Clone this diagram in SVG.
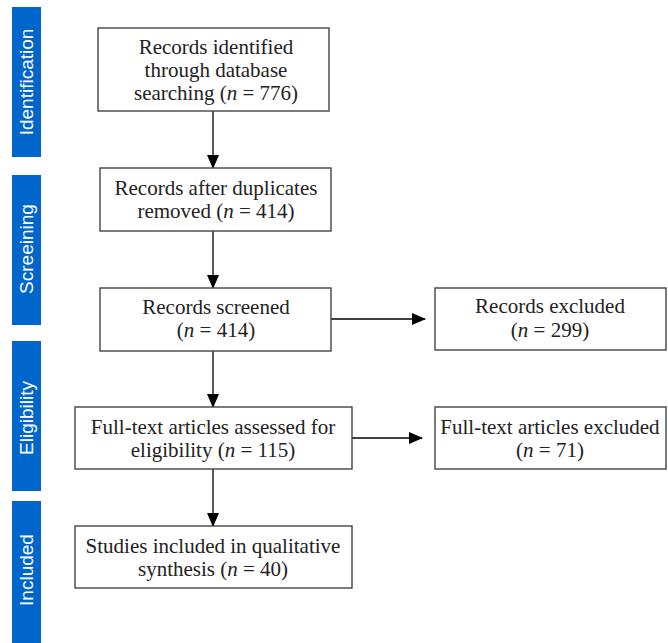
<svg xmlns="http://www.w3.org/2000/svg" width="668" height="643" viewBox="0 0 668 643">
<defs>
<style>
.box{fill:#fff;stroke:#444;stroke-width:1.4}
.t{font-family:"Liberation Serif","DejaVu Serif",serif;font-size:21px;fill:#222;text-anchor:middle}
.side{fill:#0066cc}
.st{font-family:"Liberation Sans","DejaVu Sans",sans-serif;font-size:19px;fill:#fff;text-anchor:middle;dominant-baseline:central}
.c{stroke:#000;stroke-width:1.3;fill:none;marker-end:url(#ah)}
</style>
<marker id="ah" markerWidth="14" markerHeight="12" refX="13" refY="6" orient="auto" markerUnits="userSpaceOnUse">
<path d="M0,0 L14,6 L0,12 Z" fill="#000"/>
</marker>
</defs>
<rect width="668" height="643" fill="#fff"/>
<g id="side-identification"><rect class="side" x="12" y="7" width="29" height="150"/><text class="st" transform="translate(26,82) rotate(-90)">Identification</text></g>
<g id="side-screening"><rect class="side" x="12" y="175" width="29" height="150"/><text class="st" transform="translate(26,249) rotate(-90)">Screeining</text></g>
<g id="side-eligibility"><rect class="side" x="12" y="341" width="29" height="150"/><text class="st" transform="translate(26,418) rotate(-90)">Eligibility</text></g>
<g id="side-included"><rect class="side" x="12" y="501" width="29" height="142"/><text class="st" transform="translate(26,570) rotate(-90)">Included</text></g>
<g id="connectors">
<line class="c" x1="213" y1="111" x2="213" y2="168"/>
<line class="c" x1="213" y1="231" x2="213" y2="288"/>
<line class="c" x1="213" y1="351" x2="213" y2="407"/>
<line class="c" x1="213" y1="469" x2="213" y2="526"/>
<line class="c" x1="331" y1="319" x2="425" y2="319"/>
<line class="c" x1="352" y1="438" x2="422" y2="438"/>
</g>
<g id="n1"><rect class="box" x="98" y="28" width="231" height="83"/>
<text class="t" x="216" y="54">Records identified</text>
<text class="t" x="216" y="77">through database</text>
<text class="t" x="216" y="100">searching (<tspan font-style="italic">n</tspan> = 776)</text></g>
<g id="n2"><rect class="box" x="100" y="168" width="231" height="63"/>
<text class="t" x="216" y="195">Records after duplicates</text>
<text class="t" x="216" y="218">removed (<tspan font-style="italic">n</tspan> = 414)</text></g>
<g id="n3"><rect class="box" x="100" y="288" width="231" height="63"/>
<text class="t" x="216" y="314">Records screened</text>
<text class="t" x="216" y="337">(<tspan font-style="italic">n</tspan> = 414)</text></g>
<g id="n4"><rect class="box" x="435" y="288" width="231" height="62"/>
<text class="t" x="550" y="313">Records excluded</text>
<text class="t" x="550" y="337">(<tspan font-style="italic">n</tspan> = 299)</text></g>
<g id="n5"><rect class="box" x="75" y="407" width="277" height="62"/>
<text class="t" x="213" y="434">Full-text articles assessed for</text>
<text class="t" x="213" y="457">eligibility (<tspan font-style="italic">n</tspan> = 115)</text></g>
<g id="n6"><rect class="box" x="435" y="407" width="231" height="62"/>
<text class="t" x="550" y="434">Full-text articles excluded</text>
<text class="t" x="550" y="457">(<tspan font-style="italic">n</tspan> = 71)</text></g>
<g id="n7"><rect class="box" x="75" y="526" width="277" height="62"/>
<text class="t" x="213" y="553">Studies included in qualitative</text>
<text class="t" x="213" y="576">synthesis (<tspan font-style="italic">n</tspan> = 40)</text></g>
</svg>
